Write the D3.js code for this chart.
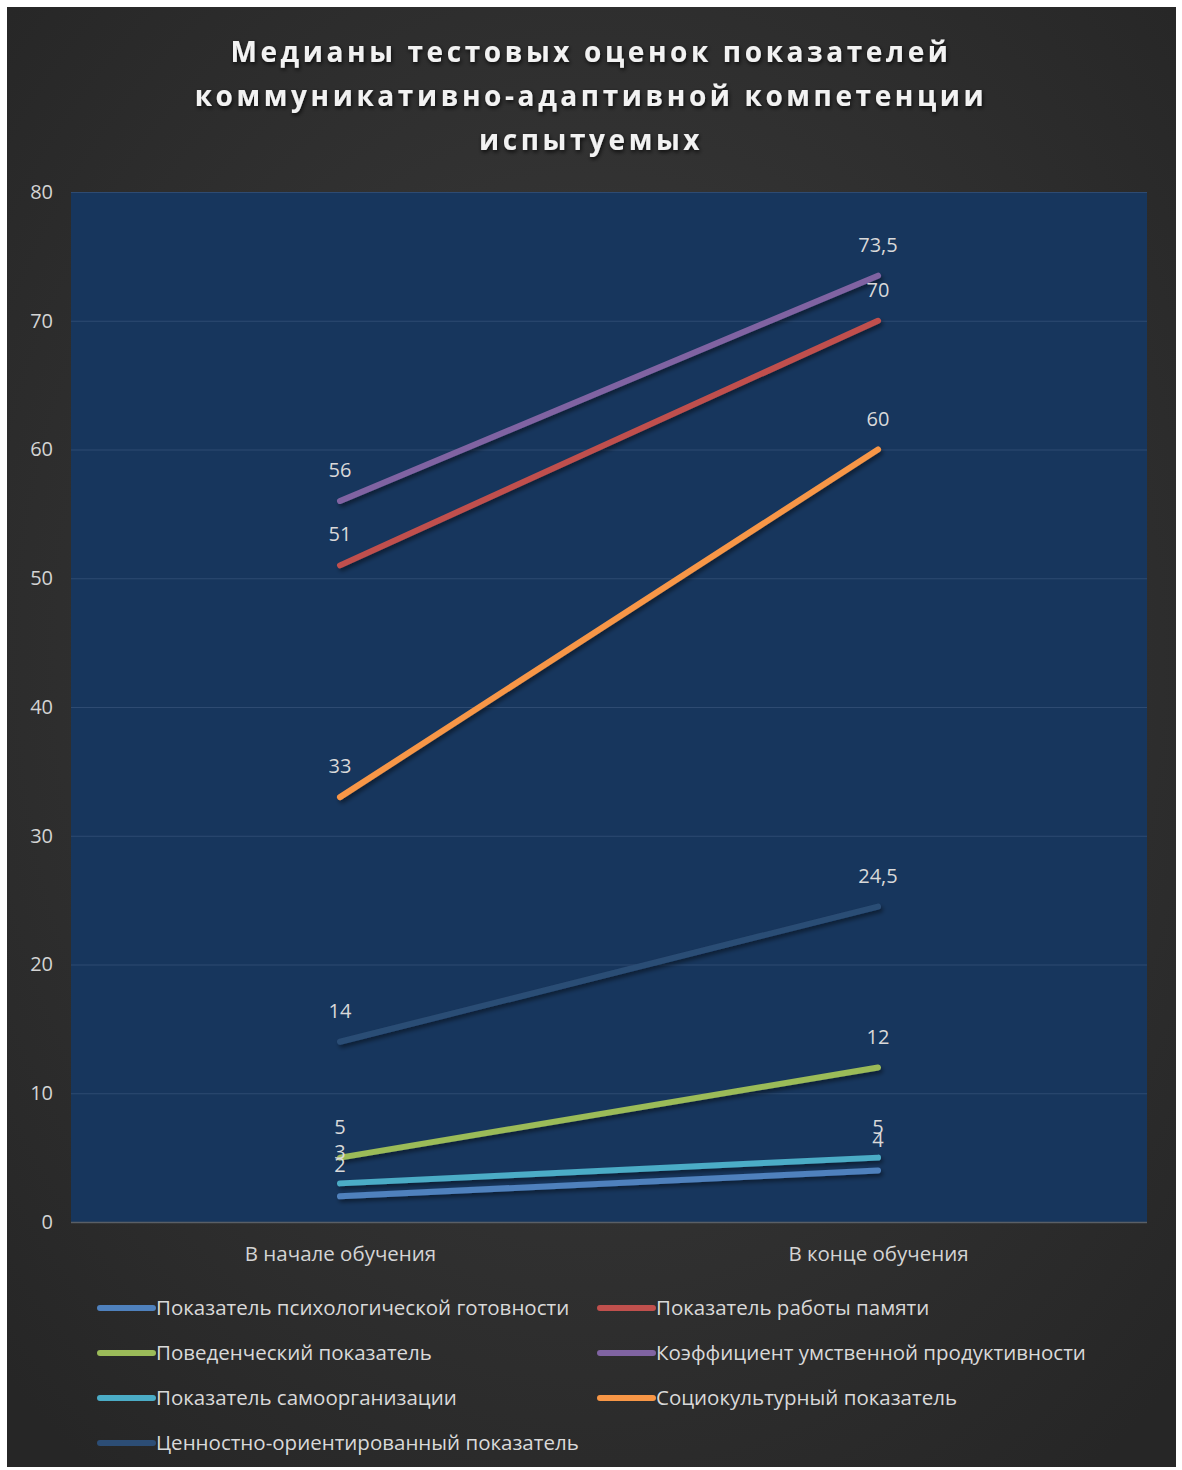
<!DOCTYPE html>
<html>
<head>
<meta charset="utf-8">
<script src="https://cdn.jsdelivr.net/npm/d3@7"></script>
<style>
  html, body { margin: 0; padding: 0; background: #ffffff; }
  svg { display: block; }
</style>
</head>
<body>
<svg id="chart" width="1182" height="1470"></svg>
<script>
// Categories along the x axis
const categories = ["В начале обучения", "В конце обучения"];

// Series names (legend order)
const seriesNames = [
  "Показатель психологической готовности",
  "Показатель работы памяти",
  "Поведенческий показатель",
  "Коэффициент умственной продуктивности",
  "Показатель самоорганизации",
  "Социокультурный показатель",
  "Ценностно-ориентированный показатель"
];

// Median values for each series: [start, end]
const psychReadiness   = [2, 4];
const memoryWork       = [51, 70];
const behavioral       = [5, 12];
const mentalProductivity = [56, 73.5];
const selfOrganization = [3, 5];
const sociocultural    = [33, 60];
const valueOriented    = [14, 24.5];

const seriesValues = [psychReadiness, memoryWork, behavioral, mentalProductivity,
                      selfOrganization, sociocultural, valueOriented];

const seriesColors = ["#4f81bd", "#c0504d", "#9bbb59", "#8064a2", "#4bacc6", "#f79646", "#2c4d75"];

const yTicks = [0, 10, 20, 30, 40, 50, 60, 70, 80];

const titleLines = [
  "Медианы тестовых оценок показателей",
  "коммуникативно-адаптивной компетенции",
  "испытуемых"
];

const fmt = v => String(v).replace(".", ",");

const svg = d3.select("#chart");
const FONT = "'Open Sans', 'DejaVu Sans', sans-serif";

const defs = svg.append("defs");
const bg = defs.append("radialGradient").attr("id", "bgGrad")
  .attr("cx", "50%").attr("cy", "45%").attr("r", "70%");
bg.append("stop").attr("offset", "0%").attr("stop-color", "#3d3d3d");
bg.append("stop").attr("offset", "100%").attr("stop-color", "#262626");

const lineShadow = defs.append("filter").attr("id", "lineShadow")
  .attr("x", "-10%").attr("y", "-50%").attr("width", "120%").attr("height", "200%");
lineShadow.append("feDropShadow").attr("dx", 2).attr("dy", 3).attr("stdDeviation", 2)
  .attr("flood-color", "#000").attr("flood-opacity", 0.45);

const titleShadow = defs.append("filter").attr("id", "titleShadow")
  .attr("x", "-5%").attr("y", "-30%").attr("width", "110%").attr("height", "160%");
titleShadow.append("feDropShadow").attr("dx", 1).attr("dy", 2).attr("stdDeviation", 2)
  .attr("flood-color", "#000").attr("flood-opacity", 0.8);

// Chart background
svg.append("rect").attr("x", 7).attr("y", 7).attr("width", 1169).attr("height", 1460)
  .attr("fill", "url(#bgGrad)");

// Title
const title = svg.append("g").attr("filter", "url(#titleShadow)");
titleLines.forEach((t, i) => {
  title.append("text")
    .attr("x", 591).attr("y", 62 + i * 44)
    .attr("text-anchor", "middle")
    .attr("font-family", FONT)
    .attr("font-weight", 700)
    .attr("font-size", 28)
    .attr("letter-spacing", 3.6)
    .attr("fill", "#f2f2f2")
    .text(t);
});

// Plot area
const plot = { left: 71, right: 1147, top: 192, bottom: 1222 };

const x = d3.scalePoint().domain(categories).range([plot.left, plot.right]).padding(0.5);
const y = d3.scaleLinear().domain([0, 80]).range([plot.bottom, plot.top]);

svg.append("rect")
  .attr("x", plot.left).attr("y", plot.top)
  .attr("width", plot.right - plot.left).attr("height", plot.bottom - plot.top)
  .attr("fill", "#17365d");

// Gridlines
svg.append("g").selectAll("line").data(yTicks.filter(d => d > 0)).join("line")
  .attr("x1", plot.left).attr("x2", plot.right)
  .attr("y1", d => y(d) + 0.5).attr("y2", d => y(d) + 0.5)
  .attr("stroke", "#2e4b72").attr("stroke-width", 1);

// X axis baseline
svg.append("line")
  .attr("x1", plot.left).attr("x2", plot.right)
  .attr("y1", plot.bottom + 0.5).attr("y2", plot.bottom + 0.5)
  .attr("stroke", "#5a5f66").attr("stroke-width", 1.5);

// Y axis
const yAxis = svg.append("g")
  .attr("transform", `translate(${plot.left},0)`)
  .call(d3.axisLeft(y).tickValues(yTicks).tickSize(0).tickPadding(18));
yAxis.select(".domain").remove();
yAxis.selectAll("text")
  .attr("font-family", FONT)
  .attr("font-size", 20)
  .attr("fill", "#d4d4d4");

// X axis
const xAxis = svg.append("g")
  .attr("transform", `translate(0,${plot.bottom})`)
  .call(d3.axisBottom(x).tickSize(0).tickPadding(24));
xAxis.select(".domain").remove();
xAxis.selectAll("text")
  .attr("font-family", FONT)
  .attr("font-size", 20.5)
  .attr("fill", "#d4d4d4");

// Series lines
const line = d3.line().x((d, i) => x(categories[i])).y(d => y(d));
const series = seriesNames.map((name, i) => ({ name, values: seriesValues[i], color: seriesColors[i] }));

svg.append("g").attr("filter", "url(#lineShadow)")
  .selectAll("path").data(series).join("path")
  .attr("d", d => line(d.values))
  .attr("fill", "none")
  .attr("stroke", d => d.color)
  .attr("stroke-width", 6)
  .attr("stroke-linecap", "round");

// Data labels
const labels = svg.append("g");
series.forEach(s => {
  s.values.forEach((v, i) => {
    labels.append("text")
      .attr("x", x(categories[i]))
      .attr("y", y(v) - 24)
      .attr("text-anchor", "middle")
      .attr("font-family", FONT)
      .attr("font-size", 20)
      .attr("fill", "#d9d9d9")
      .text(fmt(v));
  });
});

// Legend (two columns, row-major)
const legend = svg.append("g");
series.forEach((s, i) => {
  const col = i % 2, row = Math.floor(i / 2);
  const lx = 100 + col * 500, ly = 1308 + row * 45;
  legend.append("line")
    .attr("x1", lx).attr("x2", lx + 53)
    .attr("y1", ly).attr("y2", ly)
    .attr("stroke", s.color).attr("stroke-width", 6)
    .attr("stroke-linecap", "round");
  legend.append("text")
    .attr("x", lx + 56).attr("y", ly + 7)
    .attr("font-family", FONT)
    .attr("font-size", 20.5)
    .attr("fill", "#d9d9d9")
    .text(s.name);
});
</script>
</body>
</html>
